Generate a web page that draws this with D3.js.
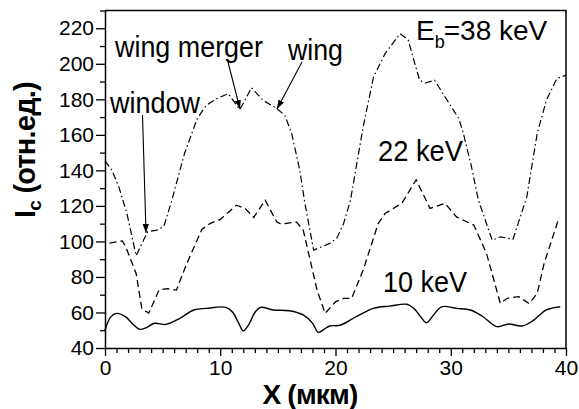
<!DOCTYPE html>
<html>
<head>
<meta charset="utf-8">
<script src="https://cdn.jsdelivr.net/npm/d3@7"></script>
<style>
  html, body { margin: 0; padding: 0; background: #fff; }
  svg { display: block; }
  text { font-family: "Liberation Sans", Arial, sans-serif; fill: #000; }
</style>
</head>
<body>
<svg id="chart" width="579" height="409"></svg>
<script>
// Collector current profiles across the sample at three beam energies
const x10 = [0, 0.5, 1.0, 1.8, 2.4, 3.0, 3.6, 4.3, 5.3, 6.5, 7.7, 8.8, 10.5, 11.1, 11.6, 12.0, 12.5, 13.0, 13.5, 14.6, 16.0, 17.2, 18.0, 18.5, 19.0, 19.5, 20.4, 21.8, 23.3, 24.7, 26.2, 26.8, 27.4, 27.9, 28.5, 29.2, 30.5, 31.7, 32.8, 34.0, 35.0, 36.2, 37.2, 38.3, 39.5];
const y10 = [50, 57.5, 59.5, 57.5, 53.5, 50.5, 51.5, 53.9, 53.3, 56.7, 61.4, 62.3, 62.9, 60, 54, 49.7, 53.5, 60, 62.9, 61.4, 61, 58.6, 54, 48.8, 50.5, 52.4, 52.8, 57.6, 62.3, 63.6, 64.6, 62.3, 57.5, 54.2, 58.5, 63.2, 62.3, 61.4, 57.6, 52, 53.5, 52.4, 55.7, 61.4, 63.2];

const x22 = [0.4, 1.5, 1.8, 2.7, 3.2, 3.8, 4.7, 5.4, 6.2, 7.1, 8.4, 9.1, 10.0, 11.4, 12.15, 12.9, 13.9, 14.9, 15.3, 16.6, 17.2, 18.4, 19.1, 20.0, 20.7, 21.4, 22.4, 23.7, 24.3, 25.75, 27.0, 28.2, 29.5, 30.5, 32.0, 33.1, 34.3, 34.9, 35.9, 36.8, 37.5, 38.1, 39.4];
const y22 = [99, 100.3, 97, 82, 62, 59.7, 72.8, 73.4, 72.6, 87.6, 106.7, 110, 112.4, 120.4, 118.6, 113.5, 123.2, 111, 109.7, 111, 106.4, 72.6, 59.5, 66, 67.9, 67.9, 83.9, 110, 115.7, 121.4, 134.7, 118.6, 121.4, 113.8, 109.2, 93.3, 65.1, 68, 68.9, 65, 70.7, 87.6, 113.5];

const x38 = [0, 0.6, 1.2, 1.9, 2.7, 3.7, 4.5, 5.1, 5.8, 6.9, 8.0, 8.8, 9.7, 10.7, 11.1, 11.7, 12.3, 12.7, 13.7, 14.9, 15.6, 16.2, 16.9, 17.3, 18.1, 19.5, 20.1, 20.7, 21.3, 22.4, 23.3, 24.3, 25.6, 26.3, 26.8, 27.3, 27.8, 28.6, 29.5, 30.7, 31.1, 31.8, 32.4, 33.6, 34.3, 35.4, 36.6, 37.5, 38.3, 39.2, 40];
const y38 = [145.4, 140.1, 130.7, 115.8, 92, 105.4, 106.4, 108.3, 123.2, 149.5, 169.2, 176.7, 180.4, 183.2, 179.5, 174.2, 181.4, 186.6, 179.5, 174.8, 171.1, 160.7, 140.1, 123.2, 95.1, 98.9, 101.7, 110, 123.2, 164.5, 192.6, 205.7, 217, 213.6, 202, 190.7, 189.2, 190.7, 181.4, 169.2, 160.7, 142, 123.2, 100.7, 102.6, 101.2, 125.1, 160.7, 179.5, 191.7, 193.6];

const xTicks = [0, 10, 20, 30, 40];
const yTicks = [40, 60, 80, 100, 120, 140, 160, 180, 200, 220];

const svg = d3.select("#chart");
const mLeft = 105, mRight = 566, mTop = 10.5, mBottom = 348;

const x = d3.scaleLinear().domain([0, 40]).range([mLeft, mRight]);
const y = d3.scaleLinear().domain([40, 230]).range([mBottom, mTop]);

// frame (top and right edges)
svg.append("path")
  .attr("d", `M${mLeft},${mTop}H${mRight}V${mBottom}`)
  .attr("fill", "none").attr("stroke", "#000").attr("stroke-width", 1.5);

// x axis: majors every 10, minors every 1
const xMinor = d3.range(0, 41, 1).filter(v => v % 10 !== 0);
const gx = svg.append("g").attr("transform", `translate(0,${mBottom})`);
gx.call(d3.axisBottom(x).tickValues(xMinor).tickSize(5).tickFormat(""))
  .call(g => g.select(".domain").remove());
gx.append("g").call(d3.axisBottom(x).tickValues(xTicks).tickSize(8).tickSizeOuter(0).tickPadding(4).tickFormat(d3.format("d")));
gx.selectAll("line").attr("stroke-width", 1.3);
gx.selectAll(".domain").attr("stroke-width", 1.5);
gx.selectAll("text").attr("font-size", 21).attr("font-family", "Liberation Sans, Arial, sans-serif");

// y axis: majors every 20, minors every 10
const yMinor = d3.range(50, 231, 20);
const gy = svg.append("g").attr("transform", `translate(${mLeft},0)`);
gy.call(d3.axisLeft(y).tickValues(yMinor).tickSize(5).tickFormat(""))
  .call(g => g.select(".domain").remove());
gy.append("g").call(d3.axisLeft(y).tickValues(yTicks).tickSize(9).tickSizeOuter(0).tickPadding(2).tickFormat(d3.format("d")));
gy.selectAll("line").attr("stroke-width", 1.3);
gy.selectAll(".domain").attr("stroke-width", 1.5);
gy.selectAll("text").attr("font-size", 21).attr("font-family", "Liberation Sans, Arial, sans-serif");

// curves
function series(xs, ys) { return xs.map((v, i) => [v, ys[i]]); }
const lineSmooth = d3.line().x(d => x(d[0])).y(d => y(d[1])).curve(d3.curveCatmullRom.alpha(0.5));
const lineStraight = d3.line().x(d => x(d[0])).y(d => y(d[1]));

svg.append("path").datum(series(x10, y10))
  .attr("d", lineSmooth).attr("fill", "none").attr("stroke", "#000").attr("stroke-width", 1.4);
svg.append("path").datum(series(x22, y22))
  .attr("d", lineStraight).attr("fill", "none").attr("stroke", "#000").attr("stroke-width", 1.3)
  .attr("stroke-dasharray", "7,4");
svg.append("path").datum(series(x38, y38))
  .attr("d", lineStraight).attr("fill", "none").attr("stroke", "#000").attr("stroke-width", 1.2)
  .attr("stroke-dasharray", "7,3,1.5,3");

// arrowhead marker
svg.append("defs").append("marker")
  .attr("id", "arrow").attr("viewBox", "0 0 10 10").attr("refX", 10).attr("refY", 5)
  .attr("markerWidth", 9).attr("markerHeight", 9).attr("markerUnits", "userSpaceOnUse")
  .attr("orient", "auto")
  .append("path").attr("d", "M0,1.5L10,5L0,8.5Z").attr("fill", "#000");

const arrows = [
  [142.5, 115, 146, 233],
  [228, 62, 240, 109],
  [302, 62, 277, 109]
];
svg.selectAll("line.arrow").data(arrows).enter().append("line")
  .attr("class", "arrow")
  .attr("x1", d => d[0]).attr("y1", d => d[1]).attr("x2", d => d[2]).attr("y2", d => d[3])
  .attr("stroke", "#000").attr("stroke-width", 1.1).attr("marker-end", "url(#arrow)");

// annotations
const labels = [
  { t: "wing merger", x: 115, y: 57, w: 148 },
  { t: "wing", x: 288, y: 60, w: 55 },
  { t: "window", x: 110, y: 113, w: 90 },
  { t: "22 keV", x: 378, y: 161, w: 85 },
  { t: "10 keV", x: 383, y: 292, w: 84 }
];
labels.forEach(l => {
  svg.append("text").attr("x", l.x).attr("y", l.y).attr("font-size", 29)
    .attr("textLength", l.w).attr("lengthAdjust", "spacingAndGlyphs").text(l.t);
});

const eb = svg.append("text").attr("x", 416).attr("y", 40).attr("font-size", 28);
eb.append("tspan").text("E");
eb.append("tspan").attr("font-size", 18).attr("dy", 8).text("b");
eb.append("tspan").attr("dy", -8).attr("dx", -1).text("=38 keV");

// axis titles
svg.append("text").attr("x", 310).attr("y", 404).attr("text-anchor", "middle")
  .attr("font-size", 28).attr("font-weight", "bold").attr("letter-spacing", -0.8).text("X (мкм)");

const yl = svg.append("text").attr("transform", "translate(35,150) rotate(-90)")
  .attr("text-anchor", "middle").attr("font-size", 29).attr("font-weight", "bold").attr("letter-spacing", -0.8);
yl.append("tspan").text("I");
yl.append("tspan").attr("font-size", 19).attr("dy", 6).text("c");
yl.append("tspan").attr("dy", -6).text(" (отн.ед.)");
</script>
</body>
</html>
